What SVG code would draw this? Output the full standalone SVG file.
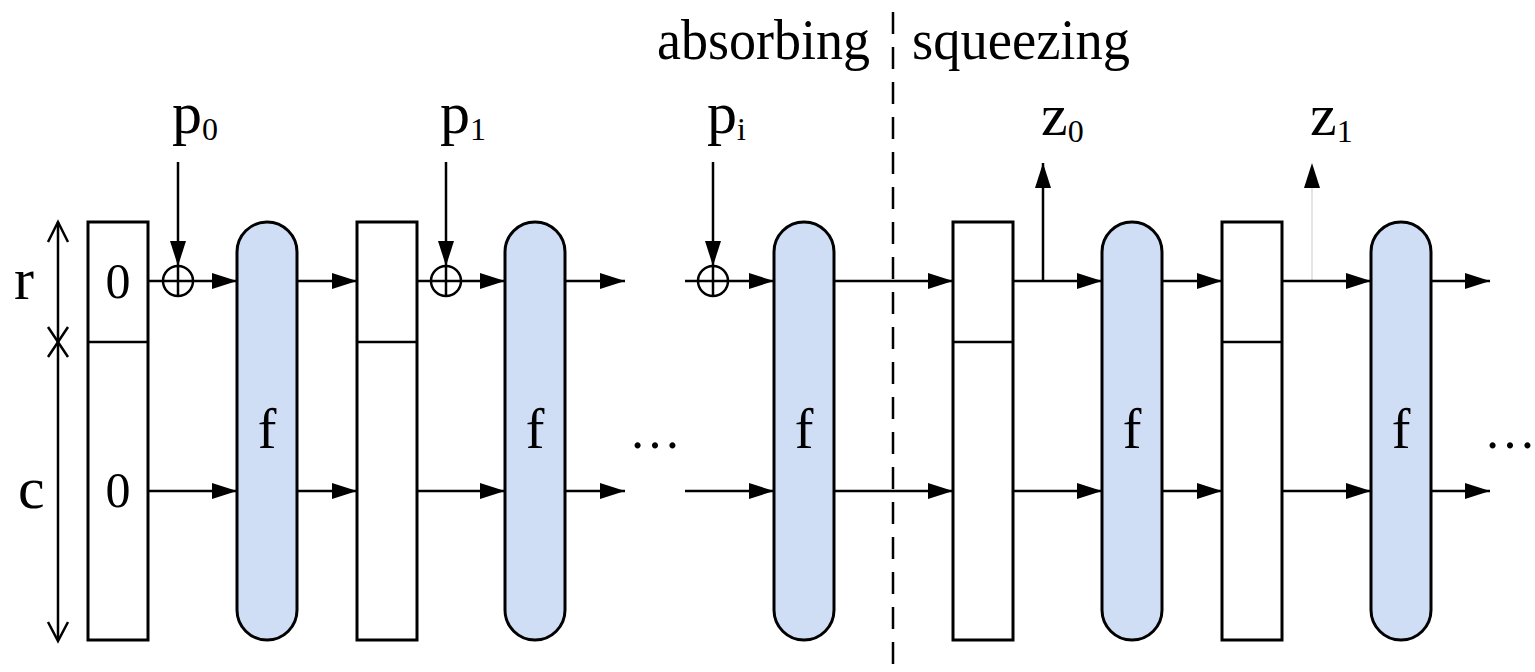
<svg xmlns="http://www.w3.org/2000/svg" width="1535" height="672" viewBox="0 0 1535 672">
<style>
  text { font-family: "Liberation Serif", "Times New Roman", serif; fill: #000; }
  .box { fill: #fff; stroke: #000; stroke-width: 3; }
  .f { fill: #d0def5; stroke: #000; stroke-width: 3; }
  .ln { fill: none; stroke: #000; stroke-width: 2.5; }
  .arr { fill: none; stroke: #000; stroke-width: 2.5; marker-end: url(#ah); }
  .dim { fill: none; stroke: #000; stroke-width: 2.5; }
  .lbl { font-size: 60px; }
  .sub { font-size: 32px; }
  .big { font-size: 56px; }
  .zero { font-size: 50px; text-anchor: middle; }
  .fl { font-size: 56px; text-anchor: middle; }
  .dots { font-size: 52px; }
</style>
<defs>
  <marker id="ah" markerUnits="userSpaceOnUse" markerWidth="26" markerHeight="16" refX="25" refY="8" orient="auto">
    <path d="M0,0 L25,8 L0,16 z" fill="#000"/>
  </marker>
</defs>

<rect width="1535" height="672" fill="#fff"/>

<!-- phase labels and divider -->
<g id="phase">
  <text class="big" x="657" y="59" textLength="213" lengthAdjust="spacingAndGlyphs">absorbing</text>
  <text class="big" x="912" y="59" textLength="218" lengthAdjust="spacingAndGlyphs">squeezing</text>
  <line x1="893" y1="12" x2="893" y2="672" stroke="#000" stroke-width="2.5" stroke-dasharray="22 13"/>
</g>

<!-- dimension r / c -->
<g id="dims">
  <line class="dim" x1="58" y1="222" x2="58" y2="640"/>
  <polyline class="dim" points="48,242 58,222 68,242"/>
  <polyline class="dim" points="48,327 58,342 68,327"/>
  <polyline class="dim" points="48,357 58,342 68,357"/>
  <polyline class="dim" points="48,622 58,641 68,622"/>
  <text class="lbl" x="14" y="299" font-size="64">r</text>
  <text class="lbl" x="18" y="508">c</text>
</g>

<!-- state boxes -->
<g id="s0">
  <rect class="box" x="88" y="222" width="60" height="418"/>
  <line class="ln" x1="88" y1="342" x2="148" y2="342" stroke-width="3"/>
  <text class="zero" x="118" y="298">0</text>
  <text class="zero" x="118" y="507">0</text>
</g>
<g id="s1">
  <rect class="box" x="357" y="222" width="60" height="418"/>
  <line class="ln" x1="357" y1="342" x2="417" y2="342" stroke-width="3"/>
</g>
<g id="s2">
  <rect class="box" x="953" y="222" width="60" height="418"/>
  <line class="ln" x1="953" y1="342" x2="1013" y2="342" stroke-width="3"/>
</g>
<g id="s3">
  <rect class="box" x="1222" y="222" width="60" height="418"/>
  <line class="ln" x1="1222" y1="342" x2="1282" y2="342" stroke-width="3"/>
</g>

<!-- f permutations -->
<g id="f1"><rect class="f" x="237" y="222" width="60" height="418" rx="30" ry="30"/><text class="fl" x="267" y="448">f</text></g>
<g id="f2"><rect class="f" x="505" y="222" width="60" height="418" rx="30" ry="30"/><text class="fl" x="535" y="448">f</text></g>
<g id="f3"><rect class="f" x="774" y="222" width="60" height="418" rx="30" ry="30"/><text class="fl" x="804" y="448">f</text></g>
<g id="f4"><rect class="f" x="1102" y="222" width="60" height="418" rx="30" ry="30"/><text class="fl" x="1132" y="448">f</text></g>
<g id="f5"><rect class="f" x="1371" y="222" width="60" height="418" rx="30" ry="30"/><text class="fl" x="1401" y="448">f</text></g>

<!-- xor nodes -->
<g id="x0">
  <circle cx="178" cy="281" r="15" fill="#fff" stroke="#000" stroke-width="2.5"/>
  <line class="ln" x1="163" y1="281" x2="193" y2="281"/><line class="ln" x1="178" y1="266" x2="178" y2="296"/>
</g>
<g id="x1">
  <circle cx="446" cy="281" r="15" fill="#fff" stroke="#000" stroke-width="2.5"/>
  <line class="ln" x1="431" y1="281" x2="461" y2="281"/><line class="ln" x1="446" y1="266" x2="446" y2="296"/>
</g>
<g id="x2">
  <circle cx="713" cy="281" r="15" fill="#fff" stroke="#000" stroke-width="2.5"/>
  <line class="ln" x1="698" y1="281" x2="728" y2="281"/><line class="ln" x1="713" y1="266" x2="713" y2="296"/>
</g>

<!-- input / output labels -->
<g id="labels">
  <text class="lbl" x="172" y="133">p<tspan class="sub" dy="7">0</tspan></text>
  <text class="lbl" x="440" y="133">p<tspan class="sub" dy="7">1</tspan></text>
  <text class="lbl" x="707" y="133">p<tspan class="sub" dy="7">i</tspan></text>
  <text class="lbl" x="1041" y="135">z<tspan class="sub" dy="7">0</tspan></text>
  <text class="lbl" x="1310" y="135">z<tspan class="sub" dy="7">1</tspan></text>
  <text class="dots" x="629" y="448">…</text>
  <text class="dots" x="1484" y="448" font-size="46">…</text>
</g>

<!-- connectors -->
<g id="connectors">
  <!-- inputs -->
  <line class="arr" x1="178" y1="162" x2="178" y2="266"/>
  <line class="arr" x1="446" y1="162" x2="446" y2="266"/>
  <line class="arr" x1="713" y1="162" x2="713" y2="266"/>
  <!-- outputs -->
  <line class="arr" x1="1043" y1="281" x2="1043" y2="163"/>
  <line x1="1312" y1="281" x2="1312" y2="186" stroke="#dcdcdc" stroke-width="1.5"/>
  <path d="M1304,188 L1312,163 L1320,188 z" fill="#000"/>
  <!-- r row -->
  <line class="ln" x1="148" y1="281" x2="163" y2="281"/>
  <line class="arr" x1="193" y1="281" x2="237" y2="281"/>
  <line class="arr" x1="297" y1="281" x2="357" y2="281"/>
  <line class="ln" x1="417" y1="281" x2="431" y2="281"/>
  <line class="arr" x1="461" y1="281" x2="505" y2="281"/>
  <line class="arr" x1="565" y1="281" x2="625" y2="281"/>
  <line class="ln" x1="685" y1="281" x2="698" y2="281"/>
  <line class="arr" x1="728" y1="281" x2="774" y2="281"/>
  <line class="arr" x1="834" y1="281" x2="953" y2="281"/>
  <line class="arr" x1="1013" y1="281" x2="1102" y2="281"/>
  <line class="arr" x1="1162" y1="281" x2="1222" y2="281"/>
  <line class="arr" x1="1282" y1="281" x2="1371" y2="281"/>
  <line class="arr" x1="1431" y1="281" x2="1490" y2="281"/>
  <!-- c row -->
  <line class="arr" x1="148" y1="491" x2="237" y2="491"/>
  <line class="arr" x1="297" y1="491" x2="357" y2="491"/>
  <line class="arr" x1="417" y1="491" x2="505" y2="491"/>
  <line class="arr" x1="565" y1="491" x2="625" y2="491"/>
  <line class="arr" x1="685" y1="491" x2="774" y2="491"/>
  <line class="arr" x1="834" y1="491" x2="953" y2="491"/>
  <line class="arr" x1="1013" y1="491" x2="1102" y2="491"/>
  <line class="arr" x1="1162" y1="491" x2="1222" y2="491"/>
  <line class="arr" x1="1282" y1="491" x2="1371" y2="491"/>
  <line class="arr" x1="1431" y1="491" x2="1490" y2="491"/>
</g>
</svg>
